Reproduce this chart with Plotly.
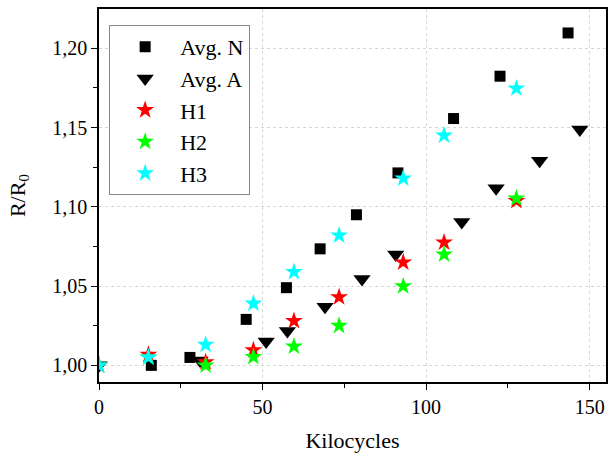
import plotly.graph_objects as go

# Data
avg_n_x = [16.0, 27.8, 45.0, 57.3, 67.6, 78.7, 91.4, 108.4, 122.6, 143.4]
avg_n_y = [1.000, 1.005, 1.029, 1.049, 1.0735, 1.095, 1.1214, 1.1557, 1.1824, 1.2097]

avg_a_x = [0.0, 30.9, 51.1, 57.6, 69.1, 80.4, 90.7, 110.9, 121.4, 134.7, 147.0]
avg_a_y = [1.000, 1.003, 1.015, 1.0216, 1.037, 1.0544, 1.070, 1.0904, 1.1118, 1.129, 1.1488]

h_x = [0.0, 15.1, 32.6, 47.2, 59.6, 73.4, 93.0, 105.5, 127.6]
h1_y = [1.000, 1.0068, 1.002, 1.0096, 1.028, 1.043, 1.065, 1.0776, 1.1038]
h2_y = [1.000, 1.005, 1.000, 1.0054, 1.012, 1.025, 1.050, 1.070, 1.1053]
h3_y = [1.000, 1.005, 1.013, 1.039, 1.059, 1.082, 1.118, 1.145, 1.1747]

x_ticks = [0, 50, 100, 150]
y_ticks = [1.00, 1.05, 1.10, 1.15, 1.20]

font_family = "Liberation Serif"

fig = go.Figure()
fig.add_trace(go.Scatter(x=avg_n_x, y=avg_n_y, mode="markers", name="Avg. N",
                         marker=dict(symbol="square", size=11, color="black")))
fig.add_trace(go.Scatter(x=avg_a_x, y=avg_a_y, mode="markers", name="Avg. A",
                         marker=dict(symbol="triangle-down", size=15, color="black")))
fig.add_trace(go.Scatter(x=h_x, y=h1_y, mode="markers", name="H1",
                         marker=dict(symbol="star", size=13.5, color="#ff0000")))
fig.add_trace(go.Scatter(x=h_x, y=h2_y, mode="markers", name="H2",
                         marker=dict(symbol="star", size=13.5, color="#00ff00")))
fig.add_trace(go.Scatter(x=h_x, y=h3_y, mode="markers", name="H3",
                         marker=dict(symbol="star", size=13.5, color="#00ffff")))

axis_common = dict(
    showline=True, linecolor="black", linewidth=1.5, mirror=True,
    ticks="outside", ticklen=6, tickwidth=1.2, tickcolor="black",
    showgrid=True, gridcolor="#d6d6d6", griddash="dot", gridwidth=1,
    zeroline=False,
    tickfont=dict(family=font_family, size=20, color="black"),
)

fig.update_xaxes(
    range=[0, 155], tickvals=x_ticks,
    minor=dict(tickvals=[25, 75, 125], ticks="outside", ticklen=4, tickcolor="black", showgrid=False),
    title=dict(text="Kilocycles", font=dict(family=font_family, size=22, color="black"), standoff=16),
    **axis_common,
)
fig.update_yaxes(
    range=[0.9895, 1.2248], tickvals=y_ticks, tickformat=".2f",
    minor=dict(tickvals=[1.025, 1.075, 1.125, 1.175], ticks="outside", ticklen=4, tickcolor="black", showgrid=False),
    title=dict(text="R/R<sub>0</sub>", font=dict(family=font_family, size=22, color="black"), standoff=21),
    **axis_common,
)

fig.update_layout(
    width=611, height=457,
    margin=dict(l=99, r=3, t=9, b=75),
    paper_bgcolor="white", plot_bgcolor="white",
    separators=",.",
    font=dict(family=font_family, color="black"),
    showlegend=True,
    legend=dict(
        x=0.02, y=0.957, xanchor="left", yanchor="top",
        bgcolor="white", bordercolor="#888888", borderwidth=1,
        font=dict(family=font_family, size=22, color="black"),
        itemwidth=60,
    ),
)

fig.write_html("out.html", config={"displayModeBar": False},
               post_script="document.body.style.margin='0';")
